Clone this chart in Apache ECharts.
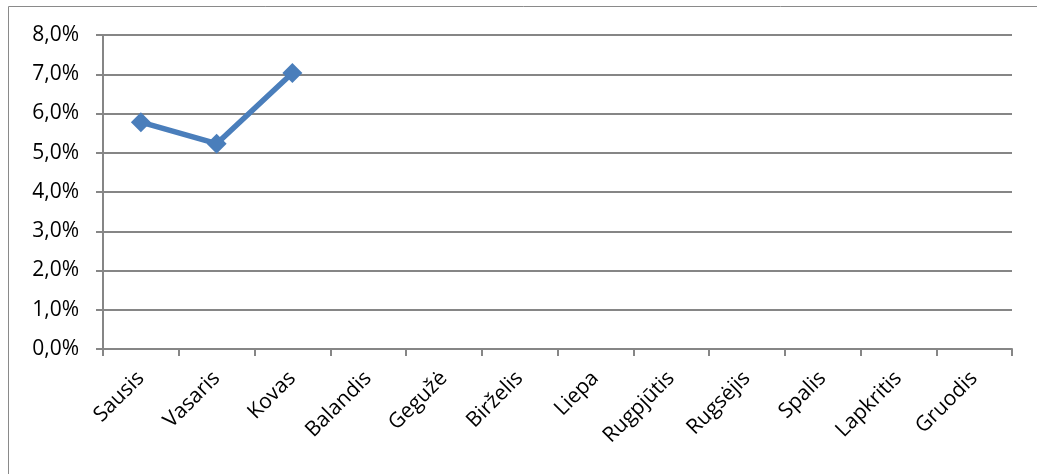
<!DOCTYPE html>
<html><head><meta charset="utf-8">
<script src="https://cdn.jsdelivr.net/npm/echarts@6/dist/echarts.min.js"></script>
<style>html,body{margin:0;padding:0;background:#fff}#c{width:1037px;height:474px}</style>
</head><body><div id="c"></div>
<script>
const categories = ['Sausis','Vasaris','Kovas','Balandis','Gegužė','Birželis','Liepa','Rugpjūtis','Rugsėjis','Spalis','Lapkritis','Gruodis'];
const values = [5.78, 5.23, 7.03, null, null, null, null, null, null, null, null, null];
const yTicks = {min: 0, max: 8, interval: 1};
const chart = echarts.init(document.getElementById('c'));
const font = '"Open Sans", "DejaVu Sans", sans-serif';
chart.setOption({
  animation: false,
  graphic: [{type:'rect', shape:{x:8.5,y:6.5,width:1100,height:600}, style:{fill:'none', stroke:'#8a8a8a', lineWidth:1}}],
  grid: {left: 103, right: 25, top: 35, bottom: 125},
  xAxis: {
    type: 'category', data: categories, boundaryGap: true,
    axisLine: {lineStyle: {color: '#868686', width: 2}},
    axisTick: {show: true, length: 7, alignWithLabel: false, lineStyle: {color: '#868686', width: 2}},
    axisLabel: {rotate: 45, interval: 0, color: '#000', fontSize: 21, fontFamily: font, margin: 26},
    splitLine: {show: false}
  },
  yAxis: {
    type: 'value', min: yTicks.min, max: yTicks.max, interval: yTicks.interval,
    axisLine: {show: true, lineStyle: {color: '#868686', width: 2}},
    axisTick: {show: true, length: 7, lineStyle: {color: '#868686', width: 2}},
    axisLabel: {color: '#000', fontSize: 21, fontFamily: font, margin: 24,
      formatter: v => v.toFixed(1).replace('.', ',') + '%'},
    splitLine: {lineStyle: {color: '#868686', width: 2}}
  },
  series: [{
    type: 'line', data: values, connectNulls: false,
    lineStyle: {color: '#4A7EBB', width: 5.5},
    itemStyle: {color: '#4A7EBB'},
    symbol: 'diamond', symbolSize: 20
  }]
});
</script></body></html>
